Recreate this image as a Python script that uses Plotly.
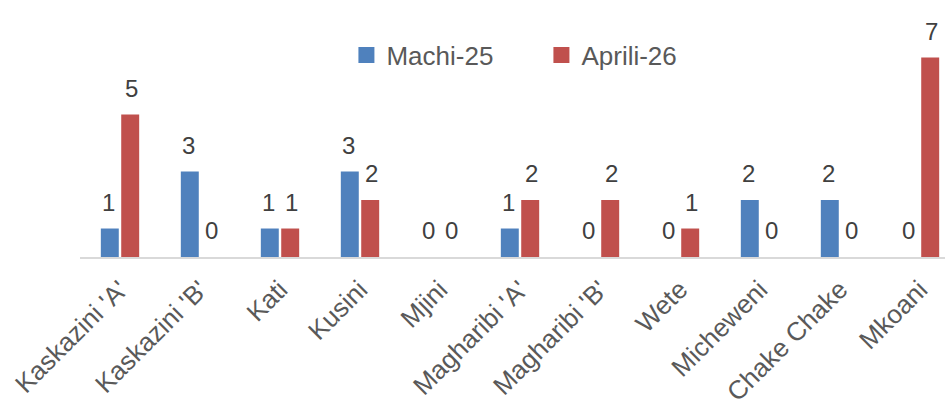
import plotly.graph_objects as go

categories = ["Kaskazini 'A'", "Kaskazini 'B'", "Kati", "Kusini", "Mjini",
              "Magharibi 'A'", "Magharibi 'B'", "Wete", "Micheweni", "Chake Chake", "Mkoani"]
machi_25 = [1, 3, 1, 3, 0, 1, 0, 0, 2, 2, 0]
aprili_26 = [5, 0, 1, 2, 0, 2, 2, 1, 0, 0, 7]
series_names = ["Machi-25", "Aprili-26"]
colors = ["#4F81BD", "#C0504D"]

FONT = "Liberation Sans, Arial, sans-serif"

fig = go.Figure()
for name, vals, col in zip(series_names, [machi_25, aprili_26], colors):
    fig.add_trace(go.Bar(x=categories, y=vals, name=name, marker_color=col,
                         marker_line_width=0, showlegend=False))
    # legend entry with a larger square symbol
    fig.add_trace(go.Scatter(x=[None], y=[None], mode="markers", name=name,
                             marker=dict(symbol="square", size=17, color=col)))

annotations = []
for vals, shift in [(machi_25, -11.5), (aprili_26, 11.5)]:
    for c, v in zip(categories, vals):
        annotations.append(dict(x=c, y=v, text=str(v), showarrow=False,
                                xref="x", yref="y", xshift=shift, yshift=11,
                                yanchor="bottom",
                                font=dict(family=FONT, size=24, color="#404040")))

fig.update_layout(
    width=950, height=403,
    margin=dict(l=80, r=5, t=0, b=146, autoexpand=False),
    plot_bgcolor="white", paper_bgcolor="white",
    barmode="group", bargap=0.49, bargroupgap=0.12,
    font=dict(family=FONT, color="#595959"),
    legend=dict(orientation="h", x=0.308, xanchor="left", y=0.786, yanchor="middle",
                font=dict(family=FONT, size=26, color="#595959"),
                entrywidth=150, traceorder="normal"),
    annotations=annotations,
)
fig.update_xaxes(range=[-0.5, 10.3125], showline=True, linecolor="#D9D9D9", linewidth=2,
                 tickangle=-45, tickfont=dict(family=FONT, size=26, color="#595959"),
                 ticklabelstandoff=5,
                 ticks="", showgrid=False, automargin=False)
fig.update_yaxes(range=[0, 9.02], visible=False, showgrid=False, automargin=False)

fig.write_html("out.html", post_script="document.body.style.margin='0';",
               config={"displayModeBar": False})
